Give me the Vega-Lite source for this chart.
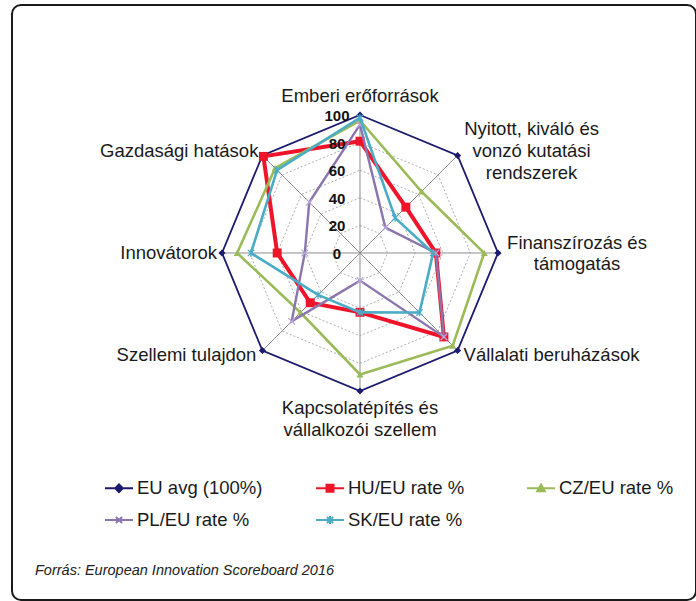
{
  "$schema": "https://vega.github.io/schema/vega-lite/v6.json",
  "width": 684,
  "height": 595,
  "autosize": {"type": "none"},
  "padding": {"left": 12, "top": 5, "right": 0, "bottom": 1},
  "background": "white",
  "config": {
    "view": {"stroke": "#1a1a1a", "strokeWidth": 2, "cornerRadius": 9},
    "font": "Liberation Sans",
    "text": {"font": "Liberation Sans"}
  },
  "title": {
    "text": "Forrás: European Innovation Scoreboard 2016",
    "orient": "bottom", "anchor": "start", "frame": "group", "offset": 0,
    "dx": 23, "dy": -25, "baseline": "alphabetic",
    "font": "Liberation Sans", "fontSize": 14.5, "fontStyle": "italic", "fontWeight": "normal", "color": "#222222"
  },
  "datasets": {
    "axes": [
      {"i": 0, "label": "Emberi erőforrások", "levels": [20, 40, 60, 80]},
      {"i": 1, "label": "Nyitott, kiváló és\nvonzó kutatási\nrendszerek", "levels": [20, 40, 60, 80]},
      {"i": 2, "label": "Finanszírozás és\ntámogatás", "levels": [20, 40, 60, 80]},
      {"i": 3, "label": "Vállalati beruházások", "levels": [20, 40, 60, 80]},
      {"i": 4, "label": "Kapcsolatépítés és\nvállalkozói szellem", "levels": [20, 40, 60, 80]},
      {"i": 5, "label": "Szellemi tulajdon", "levels": [20, 40, 60, 80]},
      {"i": 6, "label": "Innovátorok", "levels": [20, 40, 60, 80]},
      {"i": 7, "label": "Gazdasági hatások", "levels": [20, 40, 60, 80]}
    ],
    "vals": [
      {"s": "EU avg (100%)", "i": 0, "v": 100}, {"s": "EU avg (100%)", "i": 1, "v": 100},
      {"s": "EU avg (100%)", "i": 2, "v": 100}, {"s": "EU avg (100%)", "i": 3, "v": 100},
      {"s": "EU avg (100%)", "i": 4, "v": 100}, {"s": "EU avg (100%)", "i": 5, "v": 100},
      {"s": "EU avg (100%)", "i": 6, "v": 100}, {"s": "EU avg (100%)", "i": 7, "v": 100},
      {"s": "HU/EU rate %", "i": 0, "v": 81}, {"s": "HU/EU rate %", "i": 1, "v": 47},
      {"s": "HU/EU rate %", "i": 2, "v": 55}, {"s": "HU/EU rate %", "i": 3, "v": 86},
      {"s": "HU/EU rate %", "i": 4, "v": 43}, {"s": "HU/EU rate %", "i": 5, "v": 51},
      {"s": "HU/EU rate %", "i": 6, "v": 60}, {"s": "HU/EU rate %", "i": 7, "v": 99},
      {"s": "CZ/EU rate %", "i": 0, "v": 96}, {"s": "CZ/EU rate %", "i": 1, "v": 63},
      {"s": "CZ/EU rate %", "i": 2, "v": 90}, {"s": "CZ/EU rate %", "i": 3, "v": 95},
      {"s": "CZ/EU rate %", "i": 4, "v": 88}, {"s": "CZ/EU rate %", "i": 5, "v": 61},
      {"s": "CZ/EU rate %", "i": 6, "v": 89}, {"s": "CZ/EU rate %", "i": 7, "v": 87},
      {"s": "PL/EU rate %", "i": 0, "v": 93}, {"s": "PL/EU rate %", "i": 1, "v": 26},
      {"s": "PL/EU rate %", "i": 2, "v": 55}, {"s": "PL/EU rate %", "i": 3, "v": 86},
      {"s": "PL/EU rate %", "i": 4, "v": 20}, {"s": "PL/EU rate %", "i": 5, "v": 70},
      {"s": "PL/EU rate %", "i": 6, "v": 40}, {"s": "PL/EU rate %", "i": 7, "v": 52},
      {"s": "SK/EU rate %", "i": 0, "v": 98}, {"s": "SK/EU rate %", "i": 1, "v": 36},
      {"s": "SK/EU rate %", "i": 2, "v": 53}, {"s": "SK/EU rate %", "i": 3, "v": 61},
      {"s": "SK/EU rate %", "i": 4, "v": 43}, {"s": "SK/EU rate %", "i": 5, "v": 43},
      {"s": "SK/EU rate %", "i": 6, "v": 79}, {"s": "SK/EU rate %", "i": 7, "v": 85}
    ]
  },
  "layer": [
    {
      "data": {"name": "axes"},
      "transform": [
        {"calculate": "0", "as": "cx"},
        {"calculate": "100*sin(datum.i*PI/4)", "as": "ex"},
        {"calculate": "100*cos(datum.i*PI/4)", "as": "ey"}
      ],
      "mark": {"type": "rule", "color": "#8c8c8c", "strokeWidth": 1},
      "encoding": {
        "x": {"field": "cx", "type": "quantitative", "scale": {"type": "linear", "domain": [-252.17, 243.48], "nice": false, "zero": false}, "axis": null},
        "y": {"field": "cx", "type": "quantitative", "scale": {"type": "linear", "domain": [-251.45, 179.71], "nice": false, "zero": false}, "axis": null},
        "x2": {"field": "ex"},
        "y2": {"field": "ey"}
      }
    },
    {
      "data": {"name": "axes"},
      "transform": [
        {"flatten": ["levels"], "as": ["lvl"]},
        {"calculate": "datum.lvl*sin(datum.i*PI/4)", "as": "gx"},
        {"calculate": "datum.lvl*cos(datum.i*PI/4)", "as": "gy"}
      ],
      "mark": {"type": "line", "interpolate": "linear-closed", "color": "#999999", "strokeWidth": 0.8, "strokeDash": [2, 2]},
      "encoding": {
        "x": {"field": "gx", "type": "quantitative", "scale": {"type": "linear", "domain": [-252.17, 243.48], "nice": false, "zero": false}, "axis": null},
        "y": {"field": "gy", "type": "quantitative", "scale": {"type": "linear", "domain": [-251.45, 179.71], "nice": false, "zero": false}, "axis": null},
        "detail": {"field": "lvl", "type": "nominal"},
        "order": {"field": "i", "type": "quantitative"}
      }
    },
    {
      "data": {"name": "vals"},
      "transform": [
        {"filter": "datum.s === 'EU avg (100%)'"},
        {"calculate": "datum.v*sin(datum.i*PI/4)", "as": "px"},
        {"calculate": "datum.v*cos(datum.i*PI/4)", "as": "py"}
      ],
      "encoding": {
        "x": {"field": "px", "type": "quantitative", "scale": {"type": "linear", "domain": [-252.17, 243.48], "nice": false, "zero": false}, "axis": null},
        "y": {"field": "py", "type": "quantitative", "scale": {"type": "linear", "domain": [-251.45, 179.71], "nice": false, "zero": false}, "axis": null},
        "order": {"field": "i", "type": "quantitative"}
      },
      "layer": [
        {"mark": {"type": "line", "interpolate": "linear-closed", "color": "#1c1a6e", "strokeWidth": 1.8}},
        {"mark": {"type": "point", "shape": "diamond", "filled": true, "color": "#1c1a6e", "size": 50, "opacity": 1}}
      ]
    },
    {
      "data": {"name": "vals"},
      "transform": [
        {"filter": "datum.s === 'HU/EU rate %'"},
        {"calculate": "datum.v*sin(datum.i*PI/4)", "as": "px"},
        {"calculate": "datum.v*cos(datum.i*PI/4)", "as": "py"}
      ],
      "encoding": {
        "x": {"field": "px", "type": "quantitative", "scale": {"type": "linear", "domain": [-252.17, 243.48], "nice": false, "zero": false}, "axis": null},
        "y": {"field": "py", "type": "quantitative", "scale": {"type": "linear", "domain": [-251.45, 179.71], "nice": false, "zero": false}, "axis": null},
        "order": {"field": "i", "type": "quantitative"}
      },
      "layer": [
        {"mark": {"type": "line", "interpolate": "linear-closed", "color": "#f0142a", "strokeWidth": 4}},
        {"mark": {"type": "point", "shape": "square", "filled": true, "color": "#f0142a", "size": 80, "opacity": 1}}
      ]
    },
    {
      "data": {"name": "vals"},
      "transform": [
        {"filter": "datum.s === 'CZ/EU rate %'"},
        {"calculate": "datum.v*sin(datum.i*PI/4)", "as": "px"},
        {"calculate": "datum.v*cos(datum.i*PI/4)", "as": "py"}
      ],
      "encoding": {
        "x": {"field": "px", "type": "quantitative", "scale": {"type": "linear", "domain": [-252.17, 243.48], "nice": false, "zero": false}, "axis": null},
        "y": {"field": "py", "type": "quantitative", "scale": {"type": "linear", "domain": [-251.45, 179.71], "nice": false, "zero": false}, "axis": null},
        "order": {"field": "i", "type": "quantitative"}
      },
      "layer": [
        {"mark": {"type": "line", "interpolate": "linear-closed", "color": "#9bbb59", "strokeWidth": 2.6}},
        {"mark": {"type": "point", "shape": "triangle-up", "filled": true, "color": "#9bbb59", "size": 50, "opacity": 1}}
      ]
    },
    {
      "data": {"name": "vals"},
      "transform": [
        {"filter": "datum.s === 'PL/EU rate %'"},
        {"calculate": "datum.v*sin(datum.i*PI/4)", "as": "px"},
        {"calculate": "datum.v*cos(datum.i*PI/4)", "as": "py"}
      ],
      "encoding": {
        "x": {"field": "px", "type": "quantitative", "scale": {"type": "linear", "domain": [-252.17, 243.48], "nice": false, "zero": false}, "axis": null},
        "y": {"field": "py", "type": "quantitative", "scale": {"type": "linear", "domain": [-251.45, 179.71], "nice": false, "zero": false}, "axis": null},
        "order": {"field": "i", "type": "quantitative"}
      },
      "layer": [
        {"mark": {"type": "line", "interpolate": "linear-closed", "color": "#8a76ad", "strokeWidth": 2.4}},
        {"mark": {"type": "point", "shape": "M-1,-1L1,1M-1,1L1,-1", "filled": false, "color": "#b8a8d8", "strokeWidth": 1.3, "size": 45, "opacity": 1}}
      ]
    },
    {
      "data": {"name": "vals"},
      "transform": [
        {"filter": "datum.s === 'SK/EU rate %'"},
        {"calculate": "datum.v*sin(datum.i*PI/4)", "as": "px"},
        {"calculate": "datum.v*cos(datum.i*PI/4)", "as": "py"}
      ],
      "encoding": {
        "x": {"field": "px", "type": "quantitative", "scale": {"type": "linear", "domain": [-252.17, 243.48], "nice": false, "zero": false}, "axis": null},
        "y": {"field": "py", "type": "quantitative", "scale": {"type": "linear", "domain": [-251.45, 179.71], "nice": false, "zero": false}, "axis": null},
        "order": {"field": "i", "type": "quantitative"}
      },
      "layer": [
        {"mark": {"type": "line", "interpolate": "linear-closed", "color": "#4bacc6", "strokeWidth": 2.6}},
        {"mark": {"type": "point", "shape": "M-1,-1L1,1M-1,1L1,-1M0,-1.2L0,1.2", "filled": false, "color": "#4bacc6", "strokeWidth": 1.3, "size": 40, "opacity": 1}}
      ]
    },
    {
      "data": {"values": [{"t": 0, "c": 0}, {"t": 20, "c": 0}, {"t": 40, "c": 0}, {"t": 60, "c": 0}, {"t": 80, "c": 0}, {"t": 100, "c": 0}]},
      "mark": {"type": "text", "align": "center", "baseline": "middle", "dx": -23, "dy": 1, "fontWeight": "bold", "fontSize": 15, "color": "#111111"},
      "encoding": {
        "x": {"field": "c", "type": "quantitative", "scale": {"type": "linear", "domain": [-252.17, 243.48], "nice": false, "zero": false}, "axis": null},
        "y": {"field": "t", "type": "quantitative", "scale": {"type": "linear", "domain": [-251.45, 179.71], "nice": false, "zero": false}, "axis": null},
        "text": {"field": "t", "type": "quantitative"}
      }
    },
    {
      "data": {"name": "axes"},
      "transform": [
        {"calculate": "100*sin(datum.i*PI/4)", "as": "lx"},
        {"calculate": "100*cos(datum.i*PI/4)", "as": "ly"}
      ],
      "encoding": {
        "x": {"field": "lx", "type": "quantitative", "scale": {"type": "linear", "domain": [-252.17, 243.48], "nice": false, "zero": false}, "axis": null},
        "y": {"field": "ly", "type": "quantitative", "scale": {"type": "linear", "domain": [-251.45, 179.71], "nice": false, "zero": false}, "axis": null},
        "text": {"field": "label", "type": "nominal"}
      },
      "layer": [
        {"transform": [{"filter": "datum.i === 0"}], "mark": {"type": "text", "align": "center", "baseline": "middle", "dy": -19, "fontSize": 18.5, "lineBreak": "\n", "color": "#1a1a1a"}},
        {"transform": [{"filter": "datum.i === 1"}], "mark": {"type": "text", "align": "center", "baseline": "middle", "dx": 74, "dy": -26, "fontSize": 18.5, "lineBreak": "\n", "lineHeight": 22, "color": "#1a1a1a"}},
        {"transform": [{"filter": "datum.i === 2"}], "mark": {"type": "text", "align": "center", "baseline": "middle", "dx": 79, "dy": -10, "fontSize": 18.5, "lineBreak": "\n", "lineHeight": 21, "color": "#1a1a1a"}},
        {"transform": [{"filter": "datum.i === 3"}], "mark": {"type": "text", "align": "left", "baseline": "middle", "dx": 6, "dy": 4, "fontSize": 18.5, "lineBreak": "\n", "color": "#1a1a1a"}},
        {"transform": [{"filter": "datum.i === 4"}], "mark": {"type": "text", "align": "center", "baseline": "middle", "dy": 17, "fontSize": 18.5, "lineBreak": "\n", "lineHeight": 22, "color": "#1a1a1a"}},
        {"transform": [{"filter": "datum.i === 5"}], "mark": {"type": "text", "align": "right", "baseline": "middle", "dx": -6, "dy": 4, "fontSize": 18.5, "lineBreak": "\n", "color": "#1a1a1a"}},
        {"transform": [{"filter": "datum.i === 6"}], "mark": {"type": "text", "align": "right", "baseline": "middle", "dx": -5, "dy": 0, "fontSize": 18.5, "lineBreak": "\n", "color": "#1a1a1a"}},
        {"transform": [{"filter": "datum.i === 7"}], "mark": {"type": "text", "align": "right", "baseline": "middle", "dx": -4, "dy": -4, "fontSize": 18.5, "lineBreak": "\n", "color": "#1a1a1a"}}
      ]
    },
    {
      "data": {"name": "vals"},
      "transform": [{"filter": "false"}],
      "mark": {"type": "point", "filled": true, "strokeWidth": 2, "opacity": 1},
      "encoding": {
        "x": {"field": "v", "type": "quantitative", "scale": {"type": "linear", "domain": [-252.17, 243.48], "nice": false, "zero": false}, "axis": null},
        "y": {"field": "v", "type": "quantitative", "scale": {"type": "linear", "domain": [-251.45, 179.71], "nice": false, "zero": false}, "axis": null},
        "shape": {
          "field": "s", "type": "nominal",
          "scale": {
            "domain": ["EU avg (100%)", "PL/EU rate %", "HU/EU rate %", "SK/EU rate %", "CZ/EU rate %"],
            "range": [
              "M-1,0L1,0M0,-0.27L0.27,0L0,0.27L-0.27,0Z",
              "M-1,0L1,0M-0.22,-0.22L0.22,0.22M-0.22,0.22L0.22,-0.22",
              "M-1,0L1,0M-0.25,-0.25L0.25,-0.25L0.25,0.25L-0.25,0.25Z",
              "M-1,0L1,0M-0.22,-0.22L0.22,0.22M-0.22,0.22L0.22,-0.22M0,-0.29L0,0.29",
              "M-1,0L1,0M0,-0.27L0.27,0.22L-0.27,0.22Z"
            ]
          },
          "legend": {"title": null, "orient": "none", "legendX": 92, "legendY": 468, "columns": 3, "columnPadding": 49, "rowPadding": 7, "symbolSize": 784, "symbolStrokeWidth": 2, "labelFontSize": 18.5, "labelFont": "Liberation Sans", "labelOffset": 3, "labelColor": "#1a1a1a", "gridAlign": "all", "padding": 0, "labelLimit": 300}
        },
        "fill": {
          "field": "s", "type": "nominal",
          "scale": {"domain": ["EU avg (100%)", "PL/EU rate %", "HU/EU rate %", "SK/EU rate %", "CZ/EU rate %"], "range": ["#1c1a6e", "#8a76ad", "#f0142a", "#4bacc6", "#9bbb59"]},
          "legend": {"title": null, "orient": "none", "legendX": 92, "legendY": 468, "columns": 3, "columnPadding": 49, "rowPadding": 7, "symbolSize": 784, "symbolStrokeWidth": 2, "labelFontSize": 18.5, "labelFont": "Liberation Sans", "labelOffset": 3, "labelColor": "#1a1a1a", "gridAlign": "all", "padding": 0, "labelLimit": 300}
        },
        "stroke": {
          "field": "s", "type": "nominal",
          "scale": {"domain": ["EU avg (100%)", "PL/EU rate %", "HU/EU rate %", "SK/EU rate %", "CZ/EU rate %"], "range": ["#1c1a6e", "#8a76ad", "#f0142a", "#4bacc6", "#9bbb59"]},
          "legend": {"title": null, "orient": "none", "legendX": 92, "legendY": 468, "columns": 3, "columnPadding": 49, "rowPadding": 7, "symbolSize": 784, "symbolStrokeWidth": 2, "labelFontSize": 18.5, "labelFont": "Liberation Sans", "labelOffset": 3, "labelColor": "#1a1a1a", "gridAlign": "all", "padding": 0, "labelLimit": 300}
        }
      }
    }
  ]
}
